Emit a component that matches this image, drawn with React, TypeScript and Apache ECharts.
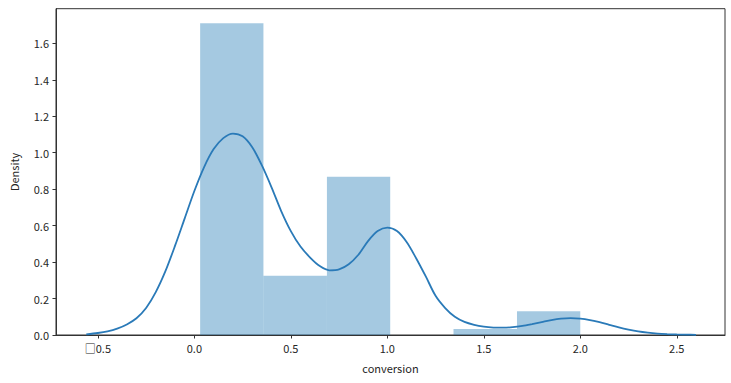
import React, { useEffect, useRef } from "react";
import * as echarts from "echarts";

// Histogram bins (density)
const binEdges = [0.03, 0.358, 0.687, 1.015, 1.343, 1.672, 2.0];
const binHeights = [1.71, 0.325, 0.868, 0, 0.033, 0.13];

// KDE curve
const kdeX = [
  -0.56, -0.5, -0.45, -0.4, -0.35, -0.3, -0.25, -0.2, -0.15, -0.1, -0.05, 0.0, 0.05, 0.1, 0.15, 0.2,
  0.25, 0.3, 0.35, 0.4, 0.45, 0.5, 0.55, 0.6, 0.65, 0.7, 0.75, 0.8, 0.85, 0.9, 0.95, 1.0,
  1.05, 1.1, 1.15, 1.2, 1.25, 1.3, 1.35, 1.4, 1.45, 1.5, 1.55, 1.6, 1.65, 1.7, 1.75, 1.8,
  1.85, 1.9, 1.95, 2.0, 2.05, 2.1, 2.15, 2.2, 2.25, 2.3, 2.35, 2.4, 2.45, 2.5, 2.55, 2.6,
];
const kdeY = [
  0.004, 0.011, 0.02, 0.035, 0.058, 0.092, 0.148, 0.235, 0.35, 0.49, 0.64, 0.79, 0.92, 1.02, 1.08, 1.105,
  1.09, 1.03, 0.93, 0.81, 0.68, 0.57, 0.485, 0.425, 0.378, 0.355, 0.36, 0.388, 0.44, 0.515, 0.57, 0.589,
  0.57, 0.51, 0.42, 0.32, 0.215, 0.148, 0.1, 0.072, 0.056, 0.046, 0.041, 0.04, 0.043, 0.05, 0.06, 0.071,
  0.082, 0.09, 0.093, 0.09, 0.082, 0.07, 0.056, 0.042, 0.03, 0.02, 0.013, 0.008, 0.005, 0.003, 0.002, 0.001,
];

const xTicks = [-0.5, 0, 0.5, 1.0, 1.5, 2.0, 2.5];
const yTicks = [0, 0.2, 0.4, 0.6, 0.8, 1.0, 1.2, 1.4, 1.6];

export default function App() {
  const ref = useRef<HTMLDivElement>(null);
  useEffect(() => {
    if (!ref.current) return;
    const chart = echarts.init(ref.current, null, { renderer: "svg" });
    const font = "'Noto Sans CJK KR', 'DejaVu Sans', sans-serif";
    const bars = binHeights.map((h, i) => [binEdges[i], binEdges[i + 1], h]);
    chart.setOption({
      animation: false,
      backgroundColor: "#ffffff",
      grid: {
        left: 54.7,
        top: 8.7,
        right: 6,
        bottom: 48,
        show: true,
        borderColor: "#333",
        borderWidth: 1,
        backgroundColor: "transparent",
      },
      xAxis: {
        type: "value",
        min: -0.717,
        max: 2.75,
        name: "conversion",
        nameLocation: "middle",
        nameGap: 27,
        nameTextStyle: { fontFamily: font, fontSize: 11, color: "#262626" },
        axisLine: { show: true, onZero: false, lineStyle: { color: "#333", width: 1 } },
        axisTick: {
          show: true,
          length: 3.5,
          lineStyle: { color: "#333" },
          customValues: xTicks,
        },
        axisLabel: {
          customValues: xTicks,
          margin: 7,
          fontFamily: font,
          fontSize: 11,
          color: "#262626",
          formatter: (v: number) => (v < 0 ? "\u25A1" + Math.abs(v).toFixed(1) : v.toFixed(1)),
        },
        splitLine: { show: false },
      },
      yAxis: {
        type: "value",
        min: 0,
        max: 1.79,
        name: "Density",
        nameLocation: "middle",
        nameGap: 37,
        nameTextStyle: { fontFamily: font, fontSize: 11, color: "#262626" },
        axisLine: { show: true, onZero: false, lineStyle: { color: "#333", width: 1 } },
        axisTick: {
          show: true,
          length: 3.5,
          lineStyle: { color: "#333" },
          customValues: yTicks,
        },
        axisLabel: {
          customValues: yTicks,
          margin: 7,
          fontFamily: font,
          fontSize: 11,
          color: "#262626",
          formatter: (v: number) => v.toFixed(1),
        },
        splitLine: { show: false },
      },
      series: [
        {
          type: "custom",
          data: bars,
          renderItem: (params: any, api: any) => {
            const x0 = api.value(0);
            const x1 = api.value(1);
            const h = api.value(2);
            const p0 = api.coord([x0, h]);
            const p1 = api.coord([x1, 0]);
            return {
              type: "rect",
              shape: { x: p0[0], y: p0[1], width: p1[0] - p0[0], height: p1[1] - p0[1] },
              style: { fill: "rgba(31,119,180,0.4)" },
            };
          },
          encode: { x: [0, 1], y: 2 },
          z: 1,
        },
        {
          type: "line",
          data: kdeX.map((x, i) => [x, kdeY[i]]),
          smooth: 0.3,
          showSymbol: false,
          symbol: "none",
          lineStyle: { color: "#2a7ab8", width: 1.8 },
          z: 2,
        },
      ],
    });
    return () => chart.dispose();
  }, []);
  return (
    <div
      ref={ref}
      style={{ position: "fixed", left: 0, top: 0, width: 731, height: 383, background: "#fff" }}
    />
  );
}
